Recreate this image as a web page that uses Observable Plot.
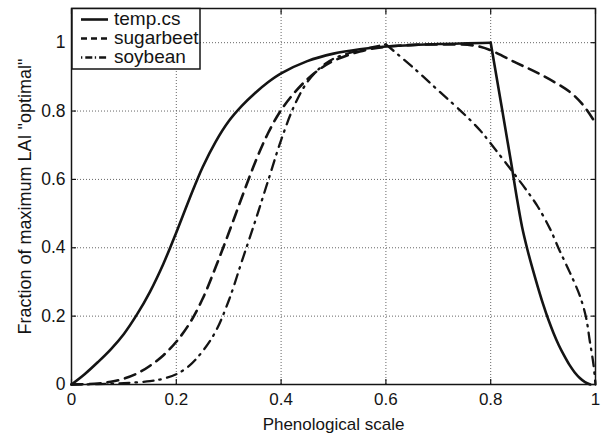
<!DOCTYPE html>
<html><head><meta charset="utf-8">
<script src="https://cdn.jsdelivr.net/npm/d3@7"></script>
<script src="https://cdn.jsdelivr.net/npm/@observablehq/plot@0.6"></script>
<style>body{margin:0;background:#fff}</style>
</head><body><div id="chart"></div>
<script>
// Series names
const seriesNames = ["temp.cs", "sugarbeet", "soybean"];

// temp.cs (solid)
const tempX = [0, 0.025, 0.05, 0.075, 0.1, 0.125, 0.15, 0.175, 0.2, 0.225, 0.25, 0.275, 0.3, 0.325, 0.35, 0.375, 0.4, 0.45, 0.5, 0.55, 0.6, 0.7, 0.8, 0.84, 0.85, 0.86, 0.87, 0.88, 0.89, 0.9, 0.91, 0.92, 0.93, 0.94, 0.95, 0.96, 0.97, 0.98, 0.99];
const tempY = [0, 0.03, 0.065, 0.103, 0.148, 0.205, 0.272, 0.352, 0.445, 0.543, 0.635, 0.71, 0.77, 0.815, 0.852, 0.884, 0.91, 0.946, 0.968, 0.981, 0.989, 0.996, 1.0, 0.64, 0.545, 0.46, 0.395, 0.338, 0.285, 0.235, 0.19, 0.15, 0.115, 0.085, 0.058, 0.036, 0.019, 0.007, 0.0];

// sugarbeet (dashed)
const beetX = [0, 0.05, 0.075, 0.1, 0.125, 0.15, 0.175, 0.2, 0.225, 0.25, 0.275, 0.3, 0.325, 0.35, 0.375, 0.4, 0.425, 0.45, 0.475, 0.5, 0.55, 0.6, 0.7, 0.78, 0.85, 0.9, 0.95, 0.975, 1.0];
const beetY = [0, 0.003, 0.008, 0.017, 0.032, 0.055, 0.085, 0.125, 0.178, 0.25, 0.343, 0.443, 0.547, 0.648, 0.735, 0.803, 0.853, 0.893, 0.924, 0.947, 0.974, 0.988, 0.995, 0.988, 0.94, 0.903, 0.857, 0.82, 0.765];

// soybean (dash-dot)
const soyX = [0, 0.05, 0.1, 0.15, 0.175, 0.2, 0.225, 0.25, 0.275, 0.3, 0.325, 0.35, 0.375, 0.4, 0.425, 0.45, 0.475, 0.5, 0.55, 0.6, 0.65, 0.7, 0.75, 0.78, 0.8, 0.84, 0.87, 0.89, 0.913, 0.932, 0.951, 0.97, 0.982, 0.989, 0.996, 1.0];
const soyY = [0, 0.001, 0.004, 0.01, 0.017, 0.03, 0.055, 0.097, 0.155, 0.245, 0.36, 0.475, 0.595, 0.715, 0.815, 0.885, 0.927, 0.953, 0.978, 0.995, 0.93, 0.86, 0.79, 0.743, 0.705, 0.626, 0.565, 0.52, 0.456, 0.39, 0.328, 0.26, 0.196, 0.128, 0.06, 0.0];

// Break points (x) where a curve has a sharp corner
const tempCorner = 0.8;
const soyCorner = 0.6;

const xTicks = [0, 0.2, 0.4, 0.6, 0.8, 1];
const yTicks = [0, 0.2, 0.4, 0.6, 0.8, 1];
const xLabel = "Phenological scale";
const yLabel = "Fraction of maximum LAI \"optimal\"";

const toRows = (name, xs, ys) => xs.map((x, i) => ({series: name, x, y: ys[i]}));
const tempRows = toRows(seriesNames[0], tempX, tempY);
const beetRows = toRows(seriesNames[1], beetX, beetY);
const soyRows = toRows(seriesNames[2], soyX, soyY);

const font = "'Liberation Sans', Arial, Helvetica, sans-serif";
const ink = "#141414";
const gridStyle = {stroke: "#666", strokeOpacity: 1, strokeWidth: 1, strokeDasharray: "1,2"};
const fmt = d => String(d);
const none = () => "";

const solid = {x: "x", y: "y", stroke: ink, strokeWidth: 2.6, curve: "catmull-rom", strokeLinejoin: "miter"};
const dashed = {x: "x", y: "y", stroke: ink, strokeWidth: 2.6, curve: "catmull-rom", strokeDasharray: "11,7"};
const dashdot = {x: "x", y: "y", stroke: ink, strokeWidth: 2.3, curve: "catmull-rom", strokeDasharray: "10,6,1.5,6.5"};

const plot = Plot.plot({
  width: 603,
  height: 436,
  marginLeft: 71,
  marginRight: 8,
  marginTop: 8,
  marginBottom: 52,
  style: {fontFamily: font, fontSize: "17px", background: "#fff", color: ink},
  x: {domain: [0, 1]},
  y: {domain: [0, 1.1]},
  marks: [
    Plot.gridX(xTicks, gridStyle),
    Plot.gridY(yTicks, gridStyle),
    Plot.axisX(xTicks, {anchor: "bottom", tickSize: 0, tickPadding: 8, tickFormat: fmt, label: xLabel, labelAnchor: "center", labelArrow: "none", labelOffset: 45, fontSize: 17}),
    Plot.axisX(xTicks, {anchor: "bottom", tickSize: -5, tickFormat: none, label: null, strokeWidth: 1.2}),
    Plot.axisX(xTicks, {anchor: "top", tickSize: -5, tickFormat: none, label: null, strokeWidth: 1.2}),
    Plot.axisY(yTicks, {anchor: "left", tickSize: 0, tickPadding: 6, tickFormat: fmt, label: null, fontSize: 17.5}),
    Plot.axisY(yTicks, {anchor: "left", tickSize: 0, tickFormat: none, label: yLabel, labelAnchor: "center", labelArrow: "none", labelOffset: 53, fontSize: 18}),
    Plot.axisY(yTicks, {anchor: "left", tickSize: -5, tickFormat: none, label: null, strokeWidth: 1.2}),
    Plot.axisY(yTicks, {anchor: "right", tickSize: -5, tickFormat: none, label: null, strokeWidth: 1.2}),
    Plot.line(soyRows.filter(d => d.x <= soyCorner), dashdot),
    Plot.line(soyRows.filter(d => d.x >= soyCorner), dashdot),
    Plot.line(beetRows, dashed),
    Plot.line(tempRows.filter(d => d.x <= tempCorner), solid),
    Plot.line(tempRows.filter(d => d.x >= tempCorner), solid),
    Plot.frame({stroke: ink, strokeWidth: 1.5})
  ]
});
document.getElementById("chart").appendChild(plot);

// Legend box in the top-left corner of the frame
const svg = d3.select(plot.tagName.toLowerCase() === "svg" ? plot : plot.querySelector("svg"));
const lg = svg.append("g");
lg.append("rect").attr("x", 72).attr("y", 8.5).attr("width", 128).attr("height", 60.5)
  .attr("fill", "#fff").attr("stroke", ink).attr("stroke-width", 1.5);
const legendStyles = [
  {dash: null, w: 2.6},
  {dash: "6,4", w: 2.6},
  {dash: "1.3,3,7,2.5", w: 2.3}
];
seriesNames.forEach((name, i) => {
  const cy = 19.5 + i * 19;
  const ln = lg.append("line").attr("x1", 81).attr("x2", 108).attr("y1", cy).attr("y2", cy)
    .attr("stroke", ink).attr("stroke-width", legendStyles[i].w);
  if (legendStyles[i].dash) ln.attr("stroke-dasharray", legendStyles[i].dash);
  lg.append("text").attr("x", 114).attr("y", cy + 5.5).attr("fill", ink)
    .attr("style", `font-family:${font};font-size:19px;text-anchor:start`)
    .text(name);
});
</script>
</body></html>
